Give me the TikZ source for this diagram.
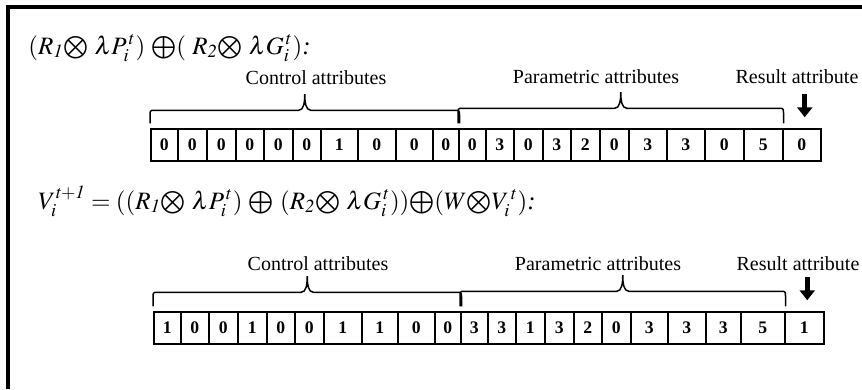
\documentclass[tikz,border=0pt]{standalone}
\usepackage{mathptmx}
\usepackage{fontspec}
\setmainfont{Liberation Serif}
\usetikzlibrary{arrows.meta, calc}

\tikzset{
  cellbox/.style={draw, line width=0.9pt, inner sep=0pt, minimum height=19.2pt,
    anchor=west, font=\fontsize{10.6}{12}\selectfont\bfseries},
  attrlabel/.style={anchor=base, inner sep=0pt, font=\fontsize{12}{14}\selectfont},
  formula/.style={anchor=base west, inner sep=0pt, font=\fontsize{15}{17}\selectfont},
  bracepath/.style={draw, line width=0.9pt},
  resarrow/.style={line width=3.2pt, -{Triangle[width=9pt, length=6pt]}},
  frameline/.style={line width=2.2pt}
}
\newcommand{\otm}{\mathord{\bigotimes}}
\newcommand{\opl}{\mathord{\bigoplus}}

\begin{document}
\begin{tikzpicture}[x=0.6pt, y=-0.6pt]
  \useasboundingbox[fill=white] (0,0) rectangle (862,389);
  % frame
  \coordinate (FL) at (8,389);
  \coordinate (FC) at (8,7);
  \coordinate (FR) at (862,7);
  \draw[frameline] (FL) -- (FC) -- (FR);

  % first vector
  \node[formula] (form1) at (28,54)
    {$(R_{\mathit{1}}\otm\ \lambda P_i^{\,t})\ \opl(\ R_{\mathit{2}}\otm\ \lambda G_i^{\,t})$\textit{:}};
  \foreach \a/\b/\v [count=\i] in {150/177/0, 177/206/0, 206/235/0, 235/263/0,
      263/292/0, 292/320/0, 320/357/1, 357/395/0, 395/432/0, 432/458/0,
      458/485/0, 485/513/3, 513/542/0, 542/570/3, 570/599/2, 599/628/0,
      628/666/3, 666/704/3, 704/743/0, 743/782/5, 782/820/0}
    \node[cellbox, minimum width={(\b-\a)*0.6pt}] (ra\i) at (\a,145) {\v};
  \node[attrlabel] (ctl1) at (316,84) {Control attributes};
  \node[attrlabel] (par1) at (596,83) {Parametric attributes};
  \node[attrlabel] (res1) at (797,83) {Result attribute};
  \coordinate (bc1s) at ([yshift=3pt]ra1.north west);
  \coordinate (bc1e) at ([yshift=3pt]ra10.north east);
  \coordinate (bc1t) at ($(bc1s)!0.5!(bc1e)+(0,-29)$);
  \coordinate (bp1s) at ([yshift=3pt]ra11.north west);
  \coordinate (bp1e) at ([yshift=3pt]ra20.north east);
  \coordinate (bp1t) at ($(bp1s)!0.5!(bp1e)+(0,-31)$);
  \draw[bracepath] (bc1s) -- ++(0,-8) .. controls +(0,-4) and +(-4,0) .. ++(4,-5)
    -- ($(bc1t)+(-6,16)$) .. controls +(5,0) and +(0,8) .. (bc1t)
    .. controls +(0,8) and +(-5,0) .. ($(bc1t)+(6,16)$)
    -- ($(bc1e)+(-4,-13)$) .. controls +(4,0) and +(0,-4) .. ($(bc1e)+(0,-8)$) -- (bc1e);
  \draw[bracepath] (bp1s) -- ++(0,-10) .. controls +(0,-4) and +(-4,0) .. ++(4,-5)
    -- ($(bp1t)+(-6,16)$) .. controls +(5,0) and +(0,8) .. (bp1t)
    .. controls +(0,8) and +(-5,0) .. ($(bp1t)+(6,16)$)
    -- ($(bp1e)+(-4,-15)$) .. controls +(4,0) and +(0,-4) .. ($(bp1e)+(0,-10)$) -- (bp1e);
  \draw[resarrow] ([xshift=1.8pt, yshift=20.4pt]ra21.north) -- ([xshift=1.8pt, yshift=6.6pt]ra21.north);

  % second vector
  \node[formula] (form2) at (38,209)
    {$V_i^{\mathit{t+1}} = ((R_{\mathit{1}}\otm\ \lambda P_i^{\,t})\ \opl\ (R_{\mathit{2}}\otm\ \lambda G_i^{\,t}))\opl(W\otm V_i^{\,t})$\textit{:}};
  \foreach \a/\b/\v [count=\i] in {153/180/1, 180/208/0, 208/237/0, 237/266/1,
      266/294/0, 294/323/0, 323/361/1, 361/397/1, 397/434/0, 434/460/0,
      460/487/3, 487/515/3, 515/544/1, 544/573/3, 573/601/2, 601/630/0,
      630/667/3, 667/705/3, 705/740/3, 740/784/5, 784/823/1}
    \node[cellbox, minimum width={(\b-\a)*0.6pt}] (rb\i) at (\a,328) {\v};
  \node[attrlabel] (ctl2) at (318,270) {Control attributes};
  \node[attrlabel] (par2) at (598,270) {Parametric attributes};
  \node[attrlabel] (res2) at (798,270) {Result attribute};
  \coordinate (bc2s) at ([yshift=3pt]rb1.north west);
  \coordinate (bc2e) at ([yshift=3pt]rb10.north east);
  \coordinate (bc2t) at ($(bc2s)!0.5!(bc2e)+(0,-30)$);
  \coordinate (bp2s) at ([yshift=3pt]rb11.north west);
  \coordinate (bp2e) at ([yshift=3pt]rb20.north east);
  \coordinate (bp2t) at ($(bp2s)!0.5!(bp2e)+(0,-31)$);
  \draw[bracepath] (bc2s) -- ++(0,-9) .. controls +(0,-4) and +(-4,0) .. ++(4,-5)
    -- ($(bc2t)+(-6,16)$) .. controls +(5,0) and +(0,8) .. (bc2t)
    .. controls +(0,8) and +(-5,0) .. ($(bc2t)+(6,16)$)
    -- ($(bc2e)+(-4,-14)$) .. controls +(4,0) and +(0,-4) .. ($(bc2e)+(0,-9)$) -- (bc2e);
  \draw[bracepath] (bp2s) -- ++(0,-10) .. controls +(0,-4) and +(-4,0) .. ++(4,-5)
    -- ($(bp2t)+(-6,16)$) .. controls +(5,0) and +(0,8) .. (bp2t)
    .. controls +(0,8) and +(-5,0) .. ($(bp2t)+(6,16)$)
    -- ($(bp2e)+(-4,-15)$) .. controls +(4,0) and +(0,-4) .. ($(bp2e)+(0,-10)$) -- (bp2e);
  \draw[resarrow] ([xshift=1.8pt, yshift=20.4pt]rb21.north) -- ([xshift=1.8pt, yshift=6.6pt]rb21.north);
\end{tikzpicture}
\end{document}
